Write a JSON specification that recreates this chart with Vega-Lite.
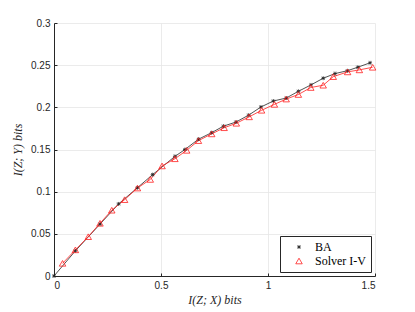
{
  "$schema": "https://vega.github.io/schema/vega-lite/v6.json",
  "width": 321,
  "height": 253,
  "autosize": "none",
  "padding": {"left": 54, "top": 23, "right": 40, "bottom": 36},
  "background": "white",
  "config": {
    "view": {"stroke": null},
    "axis": {
      "labelFont": "Liberation Sans",
      "labelFontSize": 10,
      "labelColor": "#262626",
      "titleFont": "Liberation Serif",
      "titleFontStyle": "italic",
      "titleFontWeight": "normal",
      "titleFontSize": 12,
      "titleColor": "#262626",
      "domainColor": "#262626",
      "domainWidth": 1,
      "tickColor": "#262626",
      "tickSize": -3,
      "labelPadding": 7,
      "gridColor": "#e6e6e6",
      "gridWidth": 0.8
    }
  },
  "data": {"values": [
    {"series": "BA", "x": 0, "y": 0},
    {"series": "BA", "x": 0.1, "y": 0.0298},
    {"series": "BA", "x": 0.215, "y": 0.0615},
    {"series": "BA", "x": 0.302, "y": 0.0855},
    {"series": "BA", "x": 0.39, "y": 0.1047},
    {"series": "BA", "x": 0.461, "y": 0.1202},
    {"series": "BA", "x": 0.565, "y": 0.1418},
    {"series": "BA", "x": 0.612, "y": 0.15},
    {"series": "BA", "x": 0.675, "y": 0.1622},
    {"series": "BA", "x": 0.737, "y": 0.17},
    {"series": "BA", "x": 0.792, "y": 0.1777},
    {"series": "BA", "x": 0.85, "y": 0.1825},
    {"series": "BA", "x": 0.91, "y": 0.1908},
    {"series": "BA", "x": 0.967, "y": 0.2004},
    {"series": "BA", "x": 1.025, "y": 0.2075},
    {"series": "BA", "x": 1.085, "y": 0.211},
    {"series": "BA", "x": 1.142, "y": 0.219},
    {"series": "BA", "x": 1.201, "y": 0.2266},
    {"series": "BA", "x": 1.258, "y": 0.2345},
    {"series": "BA", "x": 1.313, "y": 0.24},
    {"series": "BA", "x": 1.371, "y": 0.2434},
    {"series": "BA", "x": 1.42, "y": 0.2476},
    {"series": "BA", "x": 1.477, "y": 0.2528},
    {"series": "Solver I-V", "x": 0.04, "y": 0.015},
    {"series": "Solver I-V", "x": 0.1, "y": 0.031},
    {"series": "Solver I-V", "x": 0.16, "y": 0.0466},
    {"series": "Solver I-V", "x": 0.215, "y": 0.0625},
    {"series": "Solver I-V", "x": 0.27, "y": 0.078},
    {"series": "Solver I-V", "x": 0.33, "y": 0.0905},
    {"series": "Solver I-V", "x": 0.39, "y": 0.1043},
    {"series": "Solver I-V", "x": 0.45, "y": 0.1145},
    {"series": "Solver I-V", "x": 0.505, "y": 0.1305},
    {"series": "Solver I-V", "x": 0.565, "y": 0.139},
    {"series": "Solver I-V", "x": 0.62, "y": 0.149},
    {"series": "Solver I-V", "x": 0.675, "y": 0.1605},
    {"series": "Solver I-V", "x": 0.737, "y": 0.1685},
    {"series": "Solver I-V", "x": 0.795, "y": 0.1758},
    {"series": "Solver I-V", "x": 0.852, "y": 0.1811},
    {"series": "Solver I-V", "x": 0.912, "y": 0.1887},
    {"series": "Solver I-V", "x": 0.97, "y": 0.1965},
    {"series": "Solver I-V", "x": 1.03, "y": 0.2035},
    {"series": "Solver I-V", "x": 1.085, "y": 0.2098},
    {"series": "Solver I-V", "x": 1.142, "y": 0.2152},
    {"series": "Solver I-V", "x": 1.2, "y": 0.2235},
    {"series": "Solver I-V", "x": 1.258, "y": 0.2262},
    {"series": "Solver I-V", "x": 1.305, "y": 0.2364},
    {"series": "Solver I-V", "x": 1.372, "y": 0.242},
    {"series": "Solver I-V", "x": 1.427, "y": 0.2444},
    {"series": "Solver I-V", "x": 1.489, "y": 0.2475}
  ]},
  "encoding": {
    "x": {"field": "x", "type": "quantitative",
      "scale": {"domain": [0, 1.5], "nice": false, "zero": false},
      "axis": {"values": [0, 0.5, 1, 1.5], "format": "~g", "title": "I(Z; X) bits", "titlePadding": 4}},
    "y": {"field": "y", "type": "quantitative",
      "scale": {"domain": [0, 0.3], "nice": false},
      "axis": {"values": [0, 0.05, 0.1, 0.15, 0.2, 0.25, 0.3], "format": "~g", "title": "I(Z; Y) bits", "titlePadding": 6}},
    "color": {"field": "series", "type": "nominal",
      "scale": {"domain": ["BA", "Solver I-V"], "range": ["#262626", "#ff2020"]},
      "legend": {
        "title": null,
        "orient": "none",
        "legendX": 226,
        "legendY": 213,
        "direction": "vertical",
        "fillColor": "white",
        "strokeColor": "#262626",
        "padding": 5,
        "rowPadding": 2,
        "symbolSize": 42,
        "symbolOffset": 8,
        "symbolStrokeWidth": 0.8,
        "symbolFillColor": "transparent",
        "labelFont": "Liberation Serif",
        "labelFontSize": 12,
        "labelColor": "#000",
        "labelOffset": 10
      }}
  },
  "layer": [
    {"mark": {"type": "line", "strokeWidth": 0.8}},
    {"mark": {"type": "point", "filled": false, "strokeWidth": 0.8, "opacity": 1, "size": 42},
      "encoding": {
        "shape": {"field": "series", "type": "nominal",
          "scale": {"domain": ["BA", "Solver I-V"], "range": [
            "M-0.6,0H0.6M0,-0.6V0.6M-0.45,-0.45L0.45,0.45M-0.45,0.45L0.45,-0.45",
            "triangle-up"]},
          "legend": null}
      }}
  ]
}
